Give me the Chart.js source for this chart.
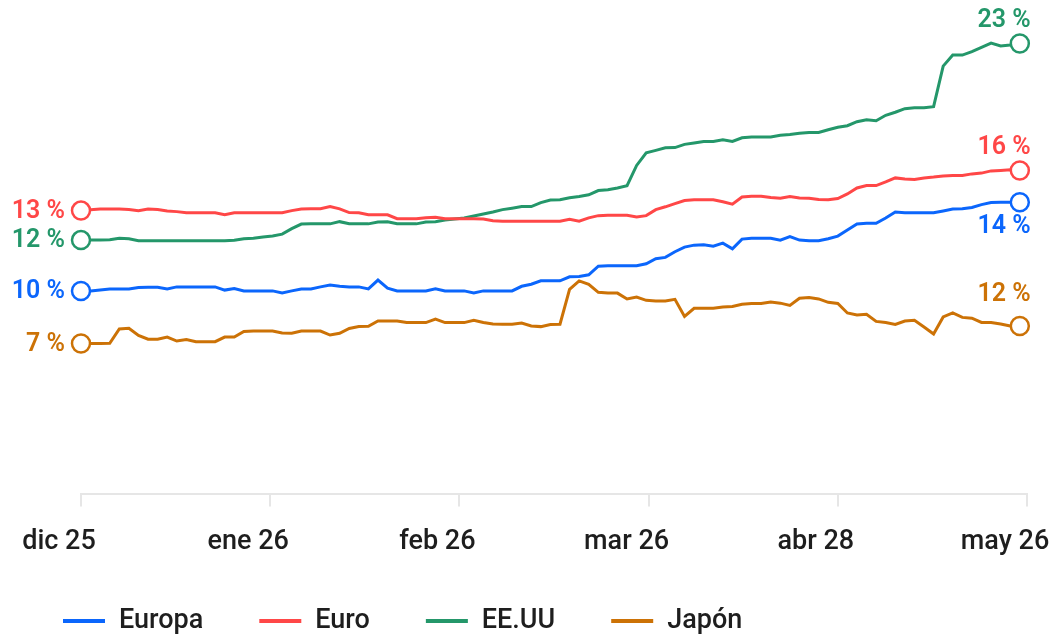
<!DOCTYPE html>
<html lang="es">
<head>
<meta charset="utf-8">
<title>Rentabilidad por región</title>
<script src="https://cdn.jsdelivr.net/npm/chart.js@4.4.1/dist/chart.umd.min.js"></script>
<style>
  html, body { margin: 0; padding: 0; background: #fff; }
  #wrap { width: 1051px; height: 634px; }
</style>
</head>
<body>
<div id="wrap"><canvas id="chart" width="1051" height="634"></canvas></div>
<script>
// x axis: one point per session, month ticks
const monthLabels = ['dic 25', 'ene 26', 'feb 26', 'mar 26', 'abr 28', 'may 26'];
const monthTicks = [0, 19.75, 39.5, 59.25, 79, 98.75];

const seriesNames = ['Europa', 'Euro', 'EE.UU', 'Japón'];
const startPct = [10, 13, 12, 7];
const endPct = [14, 16, 23, 12];

const europa = [
  10.10, 10.10, 10.15, 10.19, 10.19, 10.19, 10.27, 10.28, 10.28, 10.20,
  10.30, 10.30, 10.30, 10.30, 10.30, 10.14, 10.22, 10.10, 10.10, 10.10,
  10.10, 10.00, 10.10, 10.19, 10.20, 10.30, 10.39, 10.33, 10.30, 10.30,
  10.20, 10.64, 10.24, 10.10, 10.10, 10.10, 10.10, 10.20, 10.10, 10.10,
  10.10, 10.00, 10.10, 10.10, 10.10, 10.10, 10.33, 10.43, 10.60, 10.60,
  10.60, 10.80, 10.82, 10.90, 11.33, 11.35, 11.35, 11.35, 11.35, 11.45,
  11.70, 11.77, 12.05, 12.28, 12.38, 12.40, 12.33, 12.48, 12.20, 12.68,
  12.72, 12.72, 12.72, 12.63, 12.80, 12.63, 12.60, 12.60, 12.70, 12.83,
  13.13, 13.43, 13.47, 13.47, 13.73, 14.03, 14.00, 13.99, 13.99, 13.99,
  14.08, 14.18, 14.19, 14.26, 14.40, 14.50, 14.52, 14.52, 14.52
];
const euro = [
  14.10, 14.14, 14.18, 14.18, 14.18, 14.15, 14.10, 14.18, 14.15, 14.08,
  14.05, 13.99, 13.99, 13.99, 13.99, 13.90, 13.99, 13.99, 13.99, 13.99,
  13.99, 13.99, 14.10, 14.18, 14.19, 14.19, 14.30, 14.19, 14.00, 13.99,
  13.90, 13.89, 13.89, 13.70, 13.69, 13.69, 13.75, 13.77, 13.69, 13.69,
  13.69, 13.69, 13.68, 13.60, 13.57, 13.57, 13.57, 13.57, 13.57, 13.57,
  13.57, 13.67, 13.57, 13.74, 13.85, 13.87, 13.87, 13.87, 13.78, 13.85,
  14.15, 14.29, 14.45, 14.60, 14.64, 14.64, 14.64, 14.54, 14.42, 14.78,
  14.82, 14.82, 14.75, 14.72, 14.80, 14.73, 14.72, 14.65, 14.64, 14.70,
  14.93, 15.23, 15.35, 15.35, 15.53, 15.73, 15.68, 15.65, 15.73, 15.77,
  15.83, 15.85, 15.85, 15.93, 15.97, 16.08, 16.10, 16.13, 16.10
];
const eeuu = [
  12.63, 12.63, 12.63, 12.65, 12.72, 12.70, 12.60, 12.60, 12.60, 12.60,
  12.60, 12.60, 12.60, 12.60, 12.60, 12.60, 12.62, 12.70, 12.72, 12.79,
  12.84, 12.93, 13.20, 13.43, 13.44, 13.44, 13.44, 13.55, 13.45, 13.44,
  13.44, 13.53, 13.55, 13.45, 13.44, 13.44, 13.53, 13.55, 13.63, 13.68,
  13.73, 13.83, 13.93, 14.03, 14.15, 14.22, 14.30, 14.30, 14.50, 14.63,
  14.64, 14.74, 14.80, 14.89, 15.10, 15.14, 15.23, 15.34, 16.35, 16.98,
  17.10, 17.23, 17.24, 17.40, 17.47, 17.54, 17.55, 17.63, 17.55, 17.73,
  17.77, 17.77, 17.77, 17.85, 17.89, 17.95, 17.99, 17.99, 18.13, 18.25,
  18.33, 18.53, 18.63, 18.58, 18.85, 19.00, 19.18, 19.22, 19.22, 19.28,
  21.30, 21.85, 21.85, 22.02, 22.23, 22.45, 22.30, 22.35, 22.43
];
const japon = [
  7.48, 7.48, 7.48, 7.49, 8.20, 8.24, 7.88, 7.69, 7.69, 7.80,
  7.60, 7.68, 7.57, 7.57, 7.57, 7.80, 7.80, 8.08, 8.10, 8.10,
  8.10, 8.00, 7.99, 8.10, 8.10, 8.10, 7.90, 7.99, 8.23, 8.33,
  8.34, 8.60, 8.60, 8.60, 8.53, 8.52, 8.52, 8.70, 8.52, 8.52,
  8.52, 8.64, 8.53, 8.45, 8.44, 8.44, 8.50, 8.35, 8.32, 8.43,
  8.44, 10.18, 10.60, 10.43, 10.03, 9.99, 9.99, 9.70, 9.79, 9.63,
  9.60, 9.60, 9.68, 8.83, 9.23, 9.24, 9.24, 9.30, 9.32, 9.43,
  9.47, 9.47, 9.55, 9.49, 9.38, 9.73, 9.77, 9.70, 9.53, 9.47,
  9.00, 8.90, 8.94, 8.58, 8.52, 8.43, 8.60, 8.64, 8.30, 7.95,
  8.80, 9.00, 8.78, 8.74, 8.53, 8.52, 8.45, 8.35, 8.35
];

const colors = ['#0b66fc', '#ff4747', '#24976a', '#cc7206'];
const FONT = 'Roboto';
// where the end value sits relative to the last point (px)
const endShift = [25, -23, -23, -31];

function series(values) {
  return values.map((v, i) => ({ x: i, y: v }));
}

const valueLabels = {
  id: 'valueLabels',
  afterDatasetsDraw(chart) {
    const ctx = chart.ctx;
    ctx.save();
    ctx.font = '600 25px ' + FONT;
    ctx.textBaseline = 'middle';
    ctx.textAlign = 'right';
    chart.data.datasets.forEach((ds, i) => {
      const pts = chart.getDatasetMeta(i).data;
      const first = pts[0];
      const last = pts[pts.length - 1];
      ctx.fillStyle = ds.borderColor;
      ctx.fillText(startPct[i] + ' %', first.x - 16, first.y + 1);
      ctx.fillText(endPct[i] + ' %', last.x + 11, last.y + endShift[i]);
    });
    ctx.restore();
  }
};

const bottomLegend = {
  id: 'bottomLegend',
  afterDraw(chart) {
    const ctx = chart.ctx;
    ctx.save();
    ctx.font = '500 27px ' + FONT;
    ctx.textBaseline = 'middle';
    ctx.textAlign = 'left';
    let x = 63;
    const y = 621;
    chart.data.datasets.forEach(ds => {
      ctx.fillStyle = ds.borderColor;
      ctx.fillRect(x, y - 2, 42, 4);
      ctx.fillStyle = '#1e1e1e';
      ctx.fillText(ds.label, x + 56, y);
      x += 56 + ctx.measureText(ds.label).width + 56;
    });
    ctx.restore();
  }
};

const datasets = [europa, euro, eeuu, japon].map((vals, i) => ({
  label: seriesNames[i],
  data: series(vals),
  borderColor: colors[i],
  backgroundColor: colors[i],
  borderWidth: 3,
  tension: 0,
  clip: false,
  pointRadius: ctx => (ctx.dataIndex === 0 || ctx.dataIndex === vals.length - 1) ? 9 : 0,
  pointHoverRadius: 0,
  pointBorderWidth: 2.5,
  pointBorderColor: colors[i],
  pointBackgroundColor: '#ffffff'
}));

new Chart(document.getElementById('chart'), {
  type: 'line',
  data: { datasets },
  options: {
    responsive: false,
    animation: false,
    devicePixelRatio: 1,
    layout: { padding: { left: 7, right: 24, top: 32, bottom: 57 } },
    plugins: {
      legend: { display: false },
      tooltip: { enabled: false }
    },
    events: [],
    scales: {
      x: {
        type: 'linear',
        min: 0,
        max: 98.75,
        afterBuildTicks: s => { s.ticks = monthTicks.map(v => ({ value: v })); },
        afterFit: s => { s.paddingLeft = 0; s.paddingRight = 0; },
        grid: { drawOnChartArea: false, drawTicks: true, tickLength: 13, color: '#e6e6e6', lineWidth: 2 },
        border: { display: true, color: '#e6e6e6', width: 2 },
        ticks: {
          autoSkip: false,
          maxRotation: 0,
          padding: 19,
          labelOffset: -22,
          color: '#1e1e1e',
          font: { family: FONT, size: 27, weight: '500' },
          callback: (v, i) => monthLabels[i]
        }
      },
      y: {
        min: 0,
        max: 23,
        ticks: { display: false },
        grid: { display: false },
        border: { display: false },
        afterFit: s => { s.width = 74; }
      }
    }
  },
  plugins: [valueLabels, bottomLegend]
});
</script>
</body>
</html>
